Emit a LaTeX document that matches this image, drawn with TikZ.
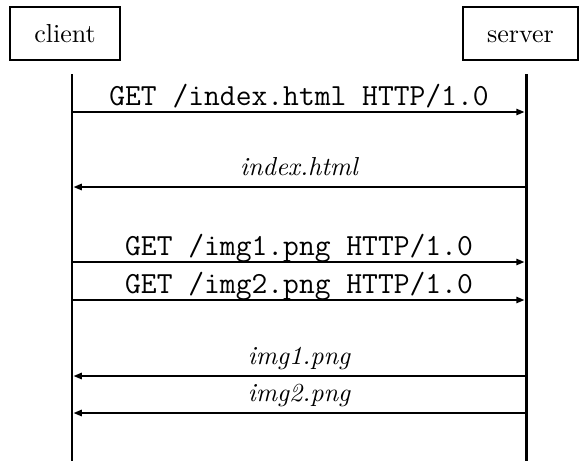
\documentclass[tikz,border=0pt]{standalone}
\usetikzlibrary{arrows.meta}
\begin{document}
\begin{tikzpicture}[x=0.3846pt,y=-0.3846pt,
  actor/.style={draw, line width=0.65pt, inner sep=0pt, minimum height=20.4pt,
    text height=6.94pt, text depth=0pt},
  lifeline/.style={line width=1.15pt},
  msg/.style={line width=0.75pt, -{Triangle[length=3.2pt,width=2.4pt]}, shorten >=0.55pt},
  req/.style={anchor=base, inner sep=0pt, font=\ttfamily\fontsize{11.8}{13}\selectfont},
  resp/.style={anchor=base, inner sep=0pt, font=\itshape}]
\useasboundingbox (0,0) rectangle (579,461);

% participants
\node[actor, minimum width=42.3pt] (client) at (65,33.5) {client};
\node[actor, minimum width=44.2pt] (server) at (520.5,33.5) {server};

% lifelines
\coordinate (cTop) at (72,74);
\coordinate (cBot) at (72,461);
\coordinate (sTop) at (526,74);
\coordinate (sBot) at (526,461);
\draw[lifeline] (cTop) -- (cBot);
\draw[lifeline] (sTop) -- (sBot);

% message end points on the lifelines
\foreach \i/\y in {1/112, 2/187, 3/262, 4/300, 5/376, 6/413} {
  \coordinate (c\i) at (72,\y);
  \coordinate (s\i) at (526,\y);
}

% requests
\draw[msg] (c1) -- (s1);
\node[req] (l1) at (299,105) {GET /index.html HTTP/1.0};
\draw[msg] (c3) -- (s3);
\node[req] (l3) at (299,255) {GET /img1.png HTTP/1.0};
\draw[msg] (c4) -- (s4);
\node[req] (l4) at (299,293) {GET /img2.png HTTP/1.0};

% responses
\draw[msg] (s2) -- (c2);
\node[resp] (l2) at (299,175) {index.html};
\draw[msg] (s5) -- (c5);
\node[resp] (l5) at (299,364) {img1.png};
\draw[msg] (s6) -- (c6);
\node[resp] (l6) at (299,401) {img2.png};
\end{tikzpicture}
\end{document}
